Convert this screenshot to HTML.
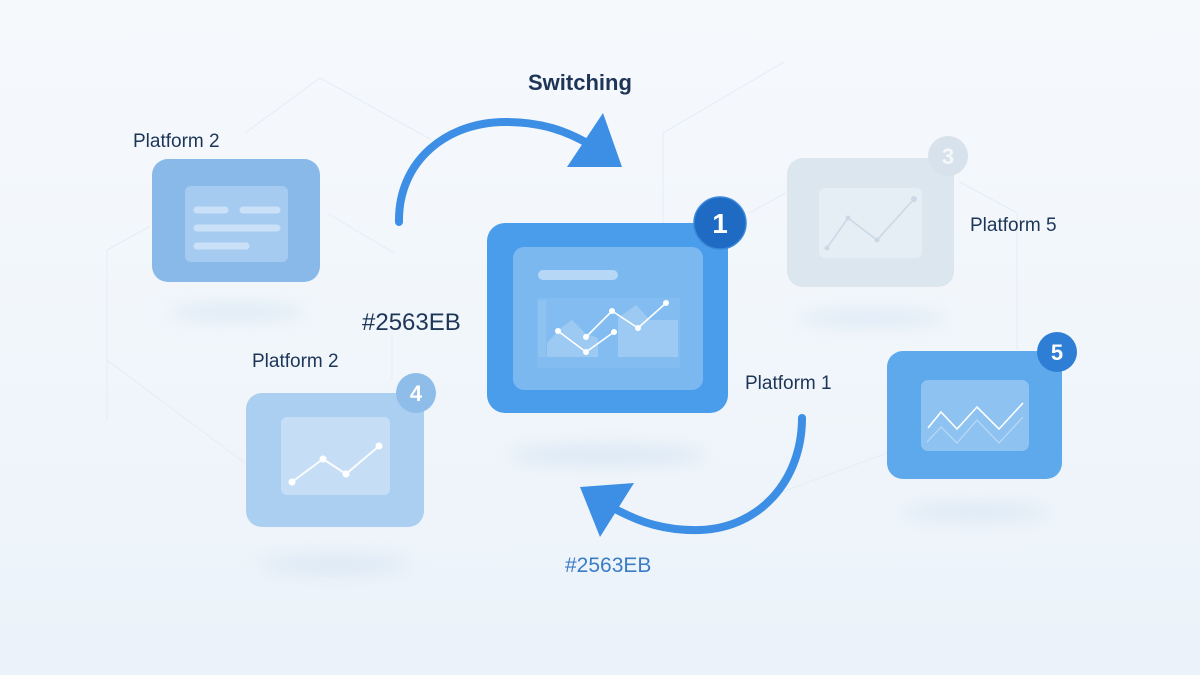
<!DOCTYPE html>
<html>
<head>
<meta charset="utf-8">
<style>
  html,body{margin:0;padding:0;}
  body{width:1200px;height:675px;overflow:hidden;background:#f2f6fa;}
  svg{display:block;}
  text{font-family:"Liberation Sans", sans-serif;}
</style>
</head>
<body>
<svg width="1200" height="675" viewBox="0 0 1200 675" xmlns="http://www.w3.org/2000/svg">
  <defs>
    <linearGradient id="bg" x1="0" y1="0" x2="0" y2="1">
      <stop offset="0" stop-color="#f6f9fc"/>
      <stop offset="0.5" stop-color="#f1f6fb"/>
      <stop offset="1" stop-color="#ebf2f9"/>
    </linearGradient>
    <filter id="blur" x="-50%" y="-300%" width="200%" height="700%">
      <feGaussianBlur stdDeviation="9"/>
    </filter>
  </defs>
  <rect width="1200" height="675" fill="url(#bg)"/>

  <!-- faint background network lines -->
  <g stroke="#e6ecf3" stroke-width="1" fill="none">
    <polyline points="245,133 320,78 432,140"/>
    <polyline points="107,420 107,250 149,227"/>
    <polyline points="107,360 245,463"/>
    <polyline points="327,213 394,253"/>
    <polyline points="663,260 663,133 784,62"/>
    <polyline points="749,213 786,193"/>
    <polyline points="960,182 1017,213 1017,350"/>
    <polyline points="392,335 392,380"/>
    <polyline points="760,500 890,452"/>
  </g>

  <!-- shadows -->
  <g filter="url(#blur)" fill="#d2e2f2" opacity="0.75">
    <ellipse cx="236" cy="312" rx="70" ry="7"/>
    <ellipse cx="335" cy="565" rx="75" ry="8"/>
    <ellipse cx="607" cy="455" rx="100" ry="9"/>
    <ellipse cx="872" cy="318" rx="75" ry="7"/>
    <ellipse cx="976" cy="512" rx="75" ry="7"/>
  </g>

  <!-- Card A: Platform 2 (top-left) -->
  <text x="133" y="147" font-size="19" fill="#1d3557">Platform 2</text>
  <rect x="152" y="159" width="168" height="123" rx="16" fill="#88b9e8"/>
  <rect x="185" y="186" width="103" height="76" rx="6" fill="#a5cbf0"/>
  <g stroke="#c9e0f6" stroke-width="7" stroke-linecap="round">
    <line x1="197" y1="210" x2="225" y2="210"/>
    <line x1="243" y1="210" x2="277" y2="210"/>
    <line x1="197" y1="228" x2="277" y2="228"/>
    <line x1="197" y1="246" x2="246" y2="246"/>
  </g>

  <!-- Card 4 (bottom-left) -->
  <text x="252" y="367" font-size="19" fill="#1d3557">Platform 2</text>
  <rect x="246" y="393" width="178" height="134" rx="16" fill="#abcff0"/>
  <rect x="281" y="417" width="109" height="78" rx="6" fill="#c6def5"/>
  <polyline points="292,482 323,459 346,474 379,446" fill="none" stroke="#ffffff" stroke-width="2" opacity="0.9"/>
  <g fill="#ffffff">
    <circle cx="292" cy="482" r="3.5"/><circle cx="323" cy="459" r="3.5"/>
    <circle cx="346" cy="474" r="3.5"/><circle cx="379" cy="446" r="3.5"/>
  </g>
  <circle cx="416" cy="393" r="20" fill="#8fbde9"/>
  <text x="416" y="401" font-size="22" font-weight="bold" fill="#ffffff" text-anchor="middle">4</text>

  <!-- Labels #2563EB -->
  <text x="362" y="330" font-size="24" fill="#1d3557">#2563EB</text>
  <text x="565" y="572" font-size="21" fill="#3a7cc5">#2563EB</text>

  <!-- Switching + top arrow -->
  <text x="528" y="90" font-size="22" font-weight="bold" fill="#1d3557">Switching</text>
  <path d="M399,222 C398,160 448,122 505,122 C540,122 566,130 592,146" fill="none" stroke="#3d8fe6" stroke-width="8" stroke-linecap="round"/>
  <polygon points="603,113 622,167 567,167" fill="#3d8fe6"/>

  <!-- Main card 1 -->
  <rect x="487" y="223" width="241" height="190" rx="18" fill="#4a9dea"/>
  <rect x="513" y="247" width="190" height="143" rx="11" fill="#7bb8f0"/>
  <rect x="537" y="298" width="143" height="70" fill="#ffffff" opacity="0.06"/>
  <rect x="538" y="270" width="80" height="10" rx="5" fill="#b6d7f6"/>
  <rect x="538" y="300" width="8" height="57" fill="#ffffff" opacity="0.1"/>
  <polygon points="547,357 547,343 562,327 572,320 585,333 598,338 598,357" fill="#ffffff" opacity="0.22"/>
  <polygon points="618,357 618,318 636,305 650,320 678,320 678,357" fill="#ffffff" opacity="0.22"/>
  <polyline points="558,331 586,352 614,332" fill="none" stroke="#ffffff" stroke-width="1.6"/>
  <polyline points="586,337 612,311 638,328 666,303" fill="none" stroke="#ffffff" stroke-width="1.6"/>
  <g fill="#ffffff">
    <circle cx="558" cy="331" r="3"/><circle cx="586" cy="352" r="3"/><circle cx="614" cy="332" r="3"/>
    <circle cx="586" cy="337" r="3"/><circle cx="612" cy="311" r="3"/><circle cx="638" cy="328" r="3"/><circle cx="666" cy="303" r="3"/>
  </g>
  <circle cx="720" cy="223" r="26" fill="#1f6bc3" stroke="#3b87d9" stroke-width="1.5"/>
  <text x="720" y="233" font-size="28" font-weight="bold" fill="#ffffff" text-anchor="middle">1</text>

  <!-- Platform 1 + bottom arrow -->
  <text x="745" y="389" font-size="19" fill="#1d3557">Platform 1</text>
  <path d="M802,418 C802,480 760,528 700,530 C665,531 640,522 617,510" fill="none" stroke="#3d8fe6" stroke-width="8" stroke-linecap="round"/>
  <polygon points="580,487 634,483 600,537" fill="#3d8fe6"/>

  <!-- Card 3 (faded) -->
  <rect x="787" y="158" width="167" height="129" rx="16" fill="#dce6ef"/>
  <rect x="819" y="188" width="103" height="70" rx="6" fill="#e6eef5"/>
  <polyline points="827,248 848,218 877,240 914,199" fill="none" stroke="#cbd8e5" stroke-width="1.6"/>
  <g fill="#cbd8e5">
    <circle cx="827" cy="248" r="2.5"/><circle cx="848" cy="218" r="2.5"/><circle cx="877" cy="240" r="2.5"/><circle cx="914" cy="199" r="3"/>
  </g>
  <circle cx="948" cy="156" r="20" fill="#d7e2ec"/>
  <text x="948" y="164" font-size="22" font-weight="bold" fill="#f4f8fb" text-anchor="middle">3</text>
  <text x="970" y="231" font-size="19" fill="#1d3557">Platform 5</text>

  <!-- Card 5 -->
  <rect x="887" y="351" width="175" height="128" rx="16" fill="#5ea8ec"/>
  <rect x="921" y="380" width="108" height="71" rx="7" fill="#8ec2f1"/>
  <polyline points="928,428 941,412 957,429 977,407 999,429 1023,403" fill="none" stroke="#ffffff" stroke-width="1.6"/>
  <polyline points="927,442 941,427 957,443 977,420 999,443 1023,417" fill="none" stroke="#ffffff" stroke-width="1.2" opacity="0.4"/>
  <circle cx="1057" cy="352" r="20" fill="#2e7ed6"/>
  <text x="1057" y="360" font-size="22" font-weight="bold" fill="#ffffff" text-anchor="middle">5</text>
</svg>
</body>
</html>
